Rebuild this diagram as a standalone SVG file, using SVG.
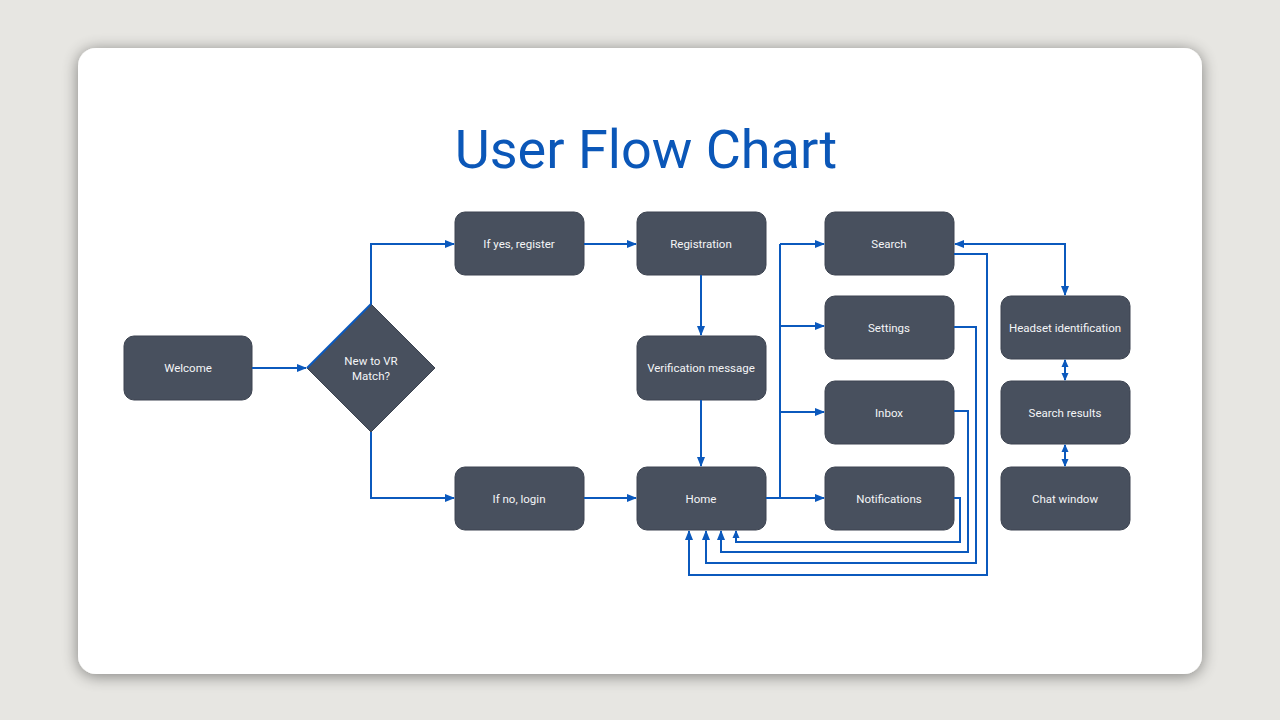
<svg xmlns="http://www.w3.org/2000/svg" width="1280" height="720" viewBox="0 0 1280 720">
<defs>
<filter id="sh" x="-10%" y="-10%" width="120%" height="120%">
<feGaussianBlur in="SourceAlpha" stdDeviation="8"/>
<feOffset dx="0" dy="2"/>
<feComponentTransfer><feFuncA type="linear" slope="0.45"/></feComponentTransfer>
<feMerge><feMergeNode/><feMergeNode in="SourceGraphic"/></feMerge>
</filter>
<marker id="ah" markerWidth="10" markerHeight="10" refX="9" refY="5" orient="auto-start-reverse" markerUnits="userSpaceOnUse">
<path d="M0,1 L10,5 L0,9 Z" fill="#0b59bd"/>
</marker>
<marker id="ahs" markerWidth="8" markerHeight="8" refX="7" refY="4" orient="auto-start-reverse" markerUnits="userSpaceOnUse">
<path d="M0,0.5 L8,4 L0,7.5 Z" fill="#0b59bd"/>
</marker>
</defs>
<style>
.n{fill:#48505e;stroke:#3c4350;stroke-width:1}
.t{font-family:Roboto,"Liberation Sans",sans-serif;font-size:11.5px;fill:#f4f5f7;text-anchor:middle;dominant-baseline:central}
.c{fill:none;stroke:#0b59bd;stroke-width:2}
.a{marker-end:url(#ah)}
.s{marker-end:url(#ahs)}
.d{marker-start:url(#ahs);marker-end:url(#ahs)}
</style>
<rect width="1280" height="720" fill="#e7e6e2"/>
<rect x="78" y="48" width="1124" height="626" rx="18" fill="#ffffff" filter="url(#sh)"/>
<text x="646" y="168" font-family="Roboto,'Liberation Sans',sans-serif" font-size="54" fill="#0b57b8" text-anchor="middle">User Flow Chart</text>

<g id="welcome"><rect class="n" x="124" y="336" width="128" height="64" rx="10"/><text class="t" x="188" y="368">Welcome</text></g>
<g id="decision"><polygon class="n" points="371,304 435,368 371,432 307,368"/><text class="t" x="371" y="361">New to VR</text><text class="t" x="371" y="376">Match?</text></g>
<g id="register"><rect class="n" x="455" y="212" width="129" height="63" rx="10"/><text class="t" x="519" y="244">If yes, register</text></g>
<g id="registration"><rect class="n" x="637" y="212" width="129" height="63" rx="10"/><text class="t" x="701" y="244">Registration</text></g>
<g id="verification"><rect class="n" x="637" y="336" width="129" height="64" rx="10"/><text class="t" x="701" y="368">Verification message</text></g>
<g id="login"><rect class="n" x="455" y="467" width="129" height="63" rx="10"/><text class="t" x="519" y="499">If no, login</text></g>
<g id="home"><rect class="n" x="637" y="467" width="129" height="63" rx="10"/><text class="t" x="701" y="499">Home</text></g>
<g id="search"><rect class="n" x="825" y="212" width="129" height="63" rx="10"/><text class="t" x="889" y="244">Search</text></g>
<g id="settings"><rect class="n" x="825" y="296" width="129" height="63" rx="10"/><text class="t" x="889" y="328">Settings</text></g>
<g id="inbox"><rect class="n" x="825" y="381" width="129" height="63" rx="10"/><text class="t" x="889" y="413">Inbox</text></g>
<g id="notifications"><rect class="n" x="825" y="467" width="129" height="63" rx="10"/><text class="t" x="889" y="499">Notifications</text></g>
<g id="headset"><rect class="n" x="1001" y="296" width="129" height="63" rx="10"/><text class="t" x="1065" y="328">Headset identification</text></g>
<g id="results"><rect class="n" x="1001" y="381" width="129" height="63" rx="10"/><text class="t" x="1065" y="413">Search results</text></g>
<g id="chat"><rect class="n" x="1001" y="467" width="129" height="63" rx="10"/><text class="t" x="1065" y="499">Chat window</text></g>

<g id="connectors">
<path class="c a" d="M252,368 H306"/>
<path class="c" d="M307,368 L371,304" stroke-width="1.5"/>
<path class="c a" d="M371,304 V244 H454"/>
<path class="c a" d="M371,432 V498 H454"/>
<path class="c a" d="M584,244 H636"/>
<path class="c a" d="M584,498 H636"/>
<path class="c a" d="M701,275 V335"/>
<path class="c a" d="M701,400 V466"/>
<path class="c a" d="M766,498 H824"/>
<path class="c" d="M780,498 V244"/>
<path class="c a" d="M780,244 H824"/>
<path class="c a" d="M780,326 H824"/>
<path class="c a" d="M780,412 H824"/>
<path class="c s" d="M954,498 H960 V542 H736 V531"/>
<path class="c a" d="M954,411 H968 V552 H721 V531"/>
<path class="c a" d="M954,327 H976 V563 H706 V531"/>
<path class="c a" d="M954,254 H987 V575 H689 V531"/>
<path class="c a" d="M1065,295 V244 H955"/>
<path class="c a" d="M1065,244 V295"/>
<path class="c d" d="M1065,360 V380"/>
<path class="c d" d="M1065,445 V466"/>
</g>
</svg>
